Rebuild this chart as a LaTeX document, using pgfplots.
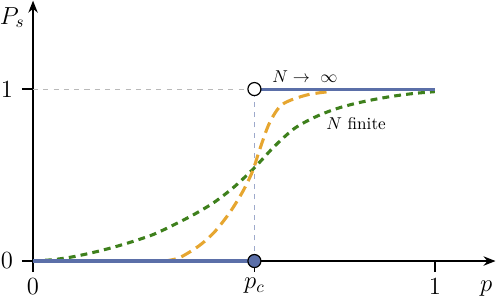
\documentclass[border=0pt]{standalone}
\usepackage{pgfplots}
\pgfplotsset{compat=1.18}
\usetikzlibrary{arrows.meta}
\definecolor{cblue}{RGB}{91,111,168}
\definecolor{corange}{RGB}{230,166,48}
\definecolor{cgreen}{RGB}{62,128,28}
\begin{document}
\begin{tikzpicture}
\begin{axis}[
  scale only axis, width=270pt, height=152pt,
  xmin=0, xmax=1.151, ymin=0, ymax=1.514,
  axis lines=left,
  axis line style={line width=0.8pt, -{Stealth[length=7pt,width=5.5pt]}},
  xtick={0,0.551,1}, xticklabels={$0$,$p_c$,$1$},
  ytick={0,1},
  tick align=outside, major tick length=6.5pt,
  tick style={black, line width=0.8pt},
  tick label style={font=\Large},
  yticklabel style={inner sep=0pt, xshift=-5pt},
  clip=false,
  xlabel={$p$}, ylabel={$P_s$},
  label style={font=\Large},
  xlabel style={at={(axis description cs:0.98,-0.107)}, anchor=center},
  ylabel style={inner sep=0pt, at={(axis description cs:-0.045,0.935)}, anchor=center, rotate=-90},
]
\addplot[gray!55, dashed, line width=0.5pt] coordinates {(0,1) (0.551,1)};
\addplot[cblue!60, dashed, line width=0.5pt] coordinates {(0.551,0) (0.551,1)};
\addplot[cgreen, line width=1.8pt, dash pattern=on 4pt off 3pt, smooth] coordinates {
(0,0) (0.05,0.008) (0.1,0.025) (0.15,0.05) (0.2,0.08) (0.25,0.115) (0.3,0.155)
(0.35,0.21) (0.4,0.27) (0.45,0.34) (0.5,0.43) (0.55,0.54) (0.6,0.665) (0.65,0.77)
(0.7,0.835) (0.75,0.882) (0.8,0.915) (0.85,0.94) (0.9,0.96) (0.95,0.975) (1.0,0.985)};
\addplot[corange, line width=1.8pt, dash pattern=on 6.5pt off 3.5pt, smooth] coordinates {
(0.328,0) (0.365,0.02) (0.414,0.09) (0.452,0.17) (0.489,0.28) (0.521,0.40)
(0.546,0.52) (0.563,0.64) (0.588,0.80) (0.620,0.91) (0.680,0.965) (0.737,0.985)};
\addplot[cblue, line width=1.8pt] coordinates {(0,0) (0.551,0)};
\addplot[cblue, line width=1.8pt] coordinates {(0.551,1) (1,1)};
\addplot[only marks, mark=*, mark size=3.8pt, mark options={fill=cblue, draw=black, line width=0.7pt}] coordinates {(0.551,0)};
\addplot[only marks, mark=*, mark size=3.8pt, mark options={fill=white, draw=black, line width=0.7pt}] coordinates {(0.551,1)};
\node at (axis cs:0.677,1.075) {$N\to\ \infty$};
\node at (axis cs:0.804,0.80) {$N$ finite};
\end{axis}
\end{tikzpicture}
\end{document}
